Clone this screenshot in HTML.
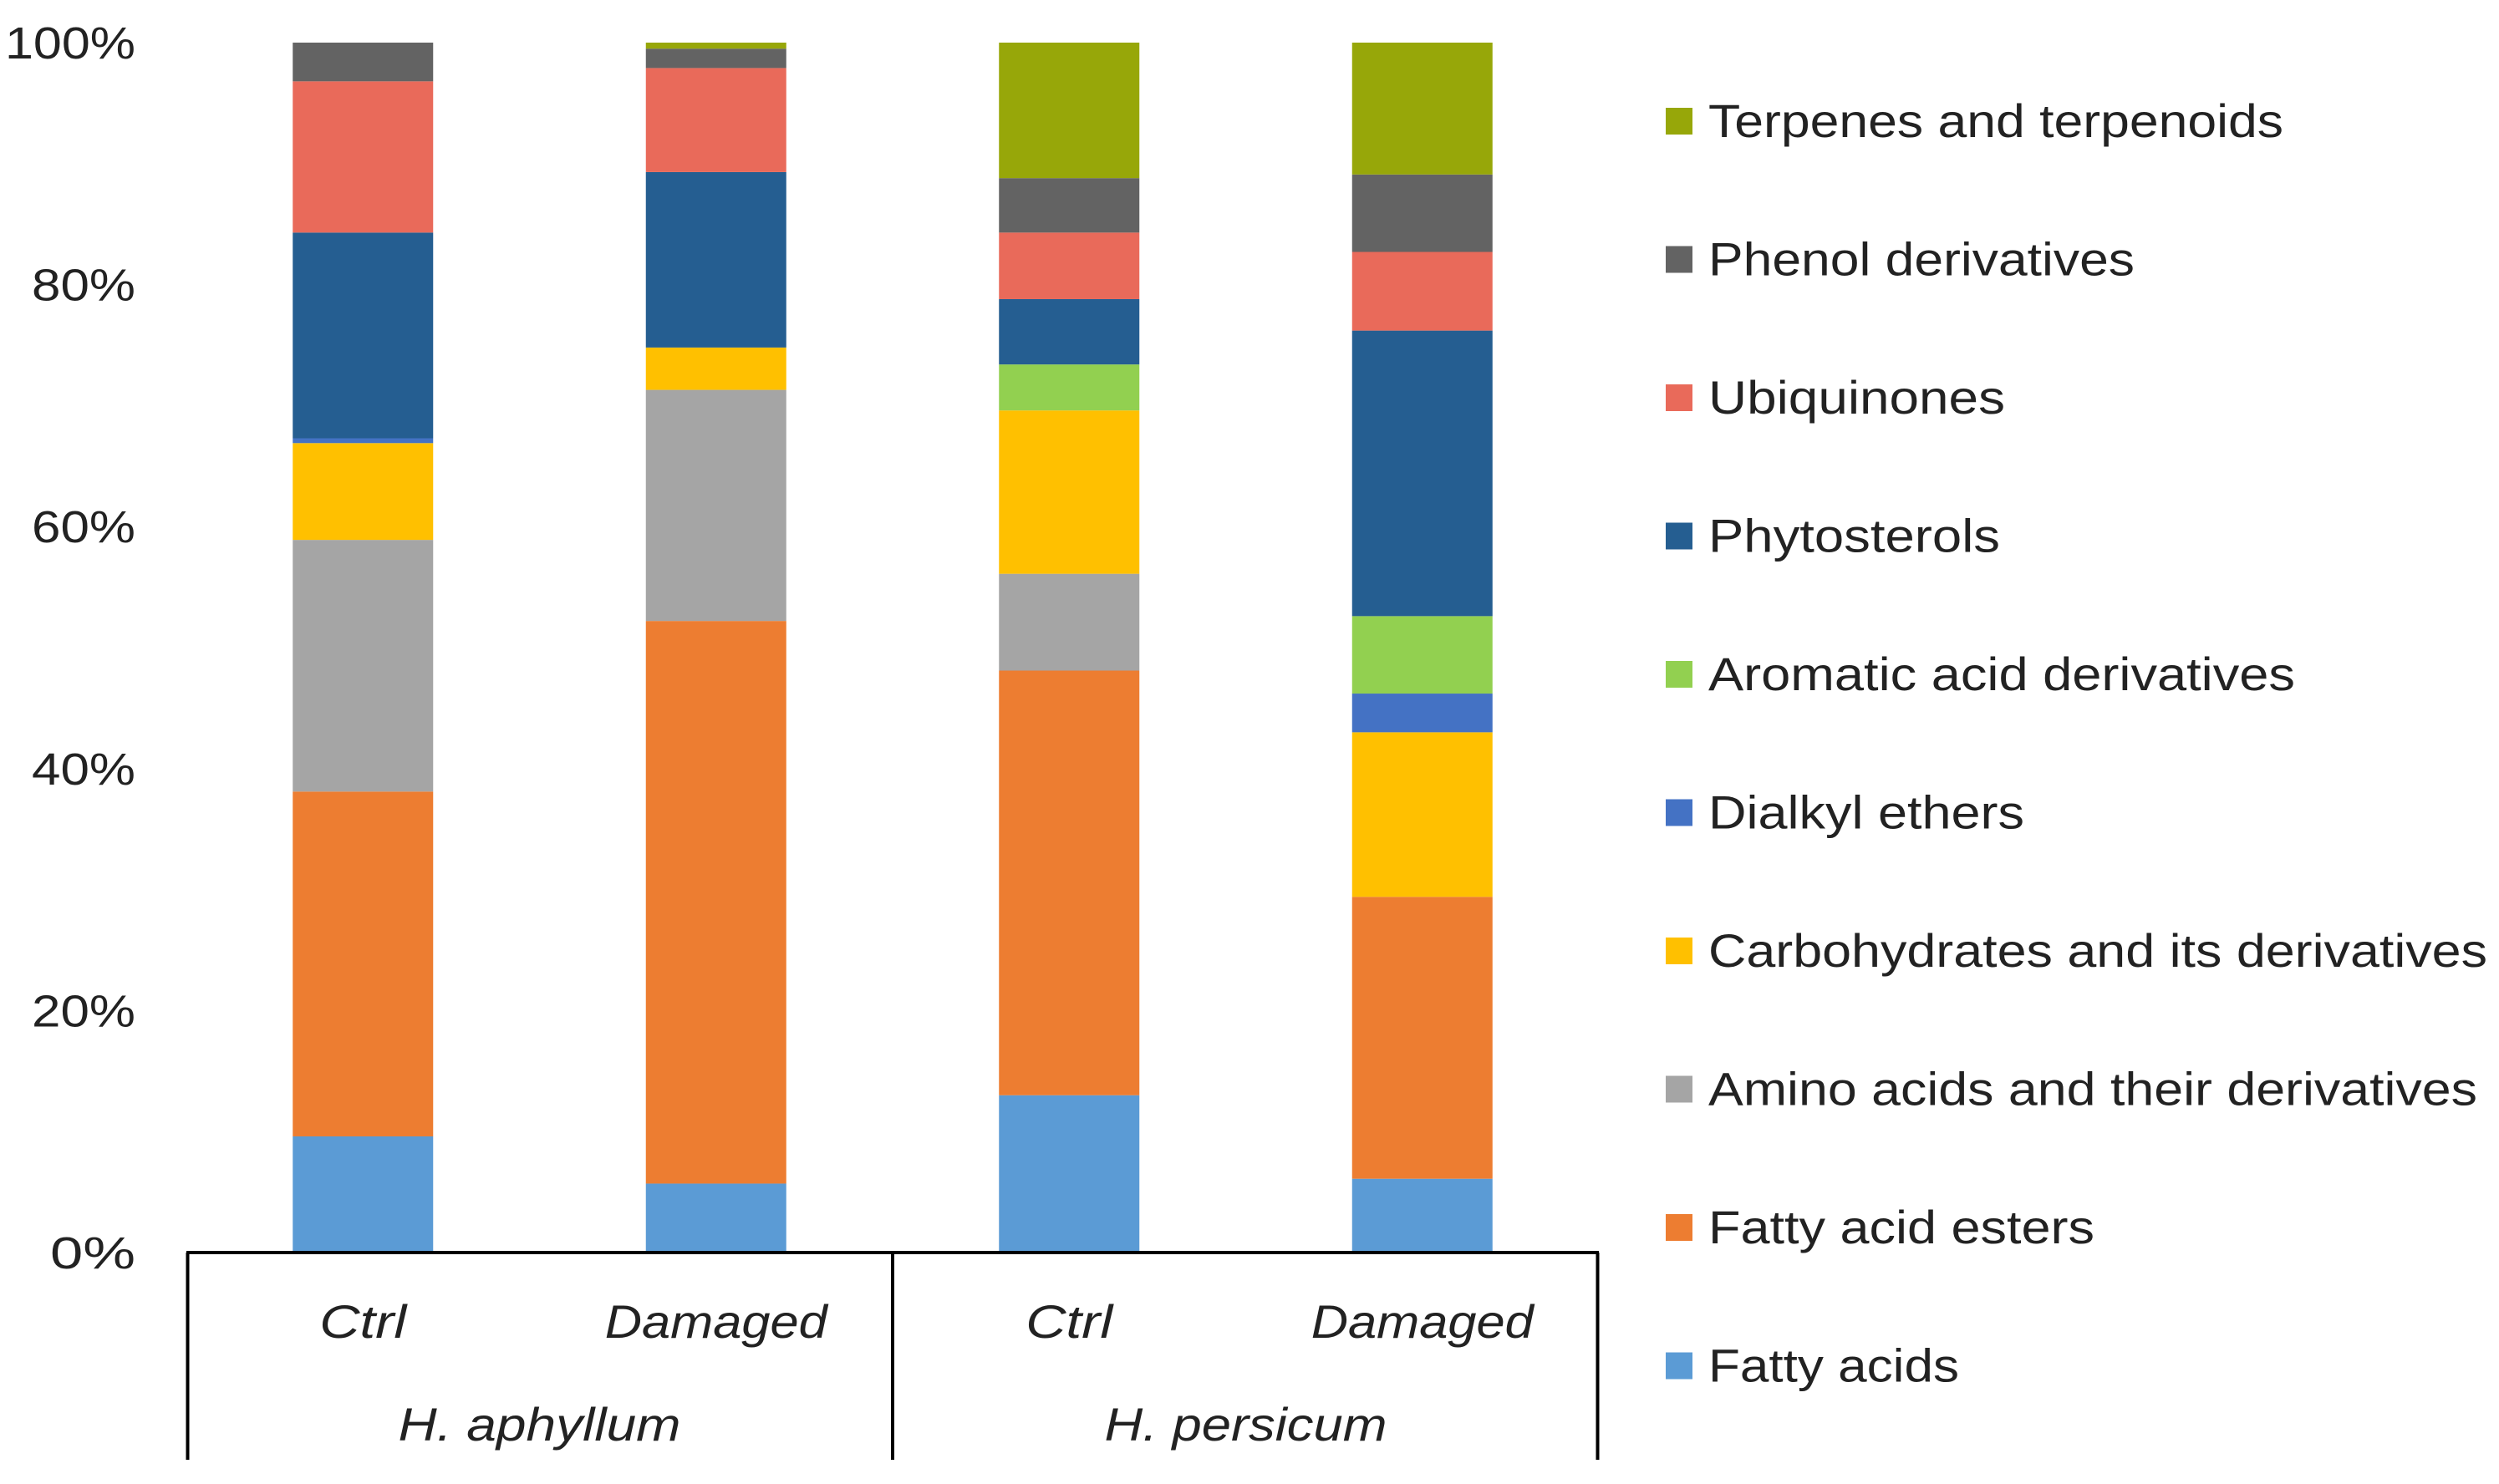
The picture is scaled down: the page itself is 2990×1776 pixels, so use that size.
<!DOCTYPE html>
<html><head><meta charset="utf-8"><style>
html,body{margin:0;padding:0;background:#fff;}
svg{display:block;font-family:"Liberation Sans",sans-serif;}
</style></head><body>
<svg id="chart" width="2990" height="1776" viewBox="0 0 2990 1776" xmlns="http://www.w3.org/2000/svg"></svg>
<script>
const categories = ["Ctrl","Damaged","Ctrl","Damaged"];
const groups = ["H. aphyllum","H. persicum"];
const seriesNames = ["Fatty acids","Fatty acid esters","Amino acids and their derivatives","Carbohydrates and its derivatives","Dialkyl ethers","Aromatic acid derivatives","Phytosterols","Ubiquinones","Phenol derivatives","Terpenes and terpenoids"];
const fattyAcids = [9.6, 5.7, 13.0, 6.1];
const fattyAcidEsters = [28.5, 46.5, 35.1, 23.3];
const aminoAcids = [20.8, 19.1, 8.0, 0];
const carbohydrates = [8.0, 3.5, 13.5, 13.6];
const dialkylEthers = [0.4, 0, 0, 3.2];
const aromaticAcids = [0, 0, 3.8, 6.4];
const phytosterols = [17.0, 14.5, 5.4, 23.6];
const ubiquinones = [12.5, 8.6, 5.5, 6.5];
const phenols = [3.2, 1.6, 4.5, 6.4];
const terpenes = [0, 0.5, 11.2, 10.9];
const yTicks = [0, 20, 40, 60, 80, 100];
const yTickLabels = ["0%","20%","40%","60%","80%","100%"];

const series = [fattyAcids, fattyAcidEsters, aminoAcids, carbohydrates, dialkylEthers, aromaticAcids, phytosterols, ubiquinones, phenols, terpenes];
const colors = ["#5b9bd5","#ed7d31","#a5a5a5","#ffc000","#4472c4","#92d050","#255e91","#e96a5a","#636363","#97a709"];
const NS = "http://www.w3.org/2000/svg";
const svg = document.getElementById("chart");
const plotLeft = 223, plotRight = 1913, y0 = 1499, y100 = 51;
const slot = (plotRight - plotLeft) / categories.length;
const barW = 168;
function yScale(v){ return y0 - (v/100)*(y0 - y100); }
function xCenter(i){ return plotLeft + slot*(i+0.5); }
function mk(tag, attrs, text){
  const el = document.createElementNS(NS, tag);
  for (const k in attrs) el.setAttribute(k, attrs[k]);
  if (text !== undefined) el.textContent = text;
  svg.appendChild(el); return el;
}
yTicks.forEach((t,i)=>{
  const el = mk("text",{x:162,y:yScale(t)+19,"text-anchor":"end","font-size":54,fill:"#222",textLength:i===5?156:(i===0?102:124),lengthAdjust:"spacingAndGlyphs"},yTickLabels[i]);
  
  
});
categories.forEach((c,i)=>{
  let cum = 0;
  series.forEach((s,k)=>{
    const v = s[i];
    if (v <= 0) { return; }
    const top = yScale(cum+v), bot = yScale(cum);
    const r = mk("rect",{x:xCenter(i)-barW/2,y:top,width:barW,height:bot-top,fill:colors[k]});
    
    
    cum += v;
  });
});
const ax = mk("path",{d:`M${plotLeft} ${y0}H${plotRight}M${plotLeft+1.5} ${y0}V1747M${(plotLeft+plotRight)/2} ${y0}V1747M${plotRight-1.5} ${y0}V1747`,stroke:"#000","stroke-width":4,fill:"none"});


categories.forEach((c,i)=>{
  const el = mk("text",{x:xCenter(i),y:1601,"text-anchor":"middle","font-size":56,"font-style":"italic",fill:"#222",textLength:c==="Ctrl"?104:266,lengthAdjust:"spacingAndGlyphs"},c);
  
  
});
groups.forEach((g,j)=>{
  const el = mk("text",{x:plotLeft+slot*(2*j+1),y:1724,"text-anchor":"middle","font-size":56,"font-style":"italic",fill:"#222",textLength:338,lengthAdjust:"spacingAndGlyphs"},g);
  
  
});
const widths = {9:688,8:510,7:355,6:349,5:702,4:378,3:932,2:920,1:462,0:300};
for (let k = series.length-1, r=0; k >= 0; k--, r++){
  const cy = 145 + r*165.5;
  const sq = mk("rect",{x:1993,y:cy-16,width:32,height:32,fill:colors[k]});
  
  
  const t = mk("text",{x:2044,y:cy+19,"font-size":56,fill:"#222",textLength:widths[k],lengthAdjust:"spacingAndGlyphs"},seriesNames[k]);
  
  
}
</script>
</body></html>
